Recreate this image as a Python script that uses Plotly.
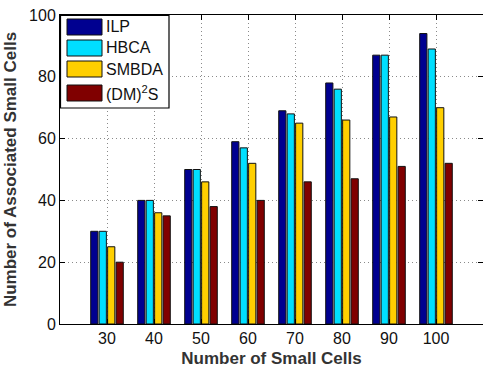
import plotly.graph_objects as go

categories = [30, 40, 50, 60, 70, 80, 90, 100]
series_names = ["ILP", "HBCA", "SMBDA", "(DM)<sup>2</sup>S"]
ilp = [30, 40, 50, 59, 69, 78, 87, 94]
hbca = [30, 40, 50, 57, 68, 76, 87, 89]
smbda = [25, 36, 46, 52, 65, 66, 67, 70]
dm2s = [20, 35, 38, 40, 46, 47, 51, 52]
y_ticks = [0, 20, 40, 60, 80, 100]

values = [ilp, hbca, smbda, dm2s]
colors = ["#000090", "#00DFFF", "#FFCF00", "#800000"]

fig = go.Figure()
for name, vals, col in zip(series_names, values, colors):
    fig.add_trace(go.Bar(
        x=categories, y=vals, name=name,
        marker=dict(color=col, line=dict(color="#111111", width=1)),
        showlegend=False,
    ))

font_family = "Liberation Sans, Arial, Helvetica, sans-serif"

# custom legend (MATLAB style, wide swatches)
L, T = 60, 15
W_PLOT, H_PLOT = 423, 309
def px(x):
    return (x - L) / W_PLOT
def py(y):
    return 1 - (y - T) / H_PLOT

shapes = [dict(type="rect", xref="paper", yref="paper",
               x0=px(60.5), x1=px(169), y0=py(108), y1=py(15.5),
               line=dict(color="#000000", width=1.2), fillcolor="white", layer="above")]
annotations = []
sw_tops = [19, 40, 61, 85]
for i, (name, col) in enumerate(zip(series_names, colors)):
    t = sw_tops[i]
    shapes.append(dict(type="rect", xref="paper", yref="paper",
                       x0=px(67), x1=px(102), y0=py(t + 16), y1=py(t),
                       line=dict(color="#111111", width=1), fillcolor=col, layer="above"))
    annotations.append(dict(xref="paper", yref="paper", x=px(104), y=py(t + 8),
                            text=name, showarrow=False, xanchor="left", yanchor="middle",
                            font=dict(size=16, color="#111111", family=font_family)))

grid_style = dict(showgrid=True, gridcolor="#8a8a8a", griddash="1px,3px", gridwidth=1)

fig.update_layout(
    width=483, height=371,
    margin=dict(l=60, r=0, t=15, b=47),
    paper_bgcolor="white", plot_bgcolor="white",
    barmode="group", bargap=0.28, bargroupgap=0.15,
    font=dict(family=font_family, size=15, color="#111111"),
    shapes=shapes, annotations=annotations,
    xaxis=dict(
        range=[20, 110], tickvals=categories, ticktext=[str(c) for c in categories],
        ticks="inside", ticklen=5, tickcolor="#000000",
        showline=True, linecolor="#000000", linewidth=1, mirror="allticks",
        zeroline=False,
        title=dict(text="<b>Number of Small Cells</b>", font=dict(size=17, color="#333333"), standoff=5),
        tickfont=dict(size=16, color="#111111"),
        **grid_style,
    ),
    yaxis=dict(
        range=[0, 100], tickvals=y_ticks,
        ticks="inside", ticklen=5, tickcolor="#000000",
        showline=True, linecolor="#000000", linewidth=1, mirror="allticks",
        zeroline=False,
        title=dict(text="<b>Number of Associated Small Cells</b>", font=dict(size=17, color="#333333"), standoff=8),
        tickfont=dict(size=16, color="#111111"),
        **grid_style,
    ),
)

fig.write_html("out.html", config={"displayModeBar": False},
               post_script="document.body.style.margin='0';document.body.style.overflow='hidden';")
